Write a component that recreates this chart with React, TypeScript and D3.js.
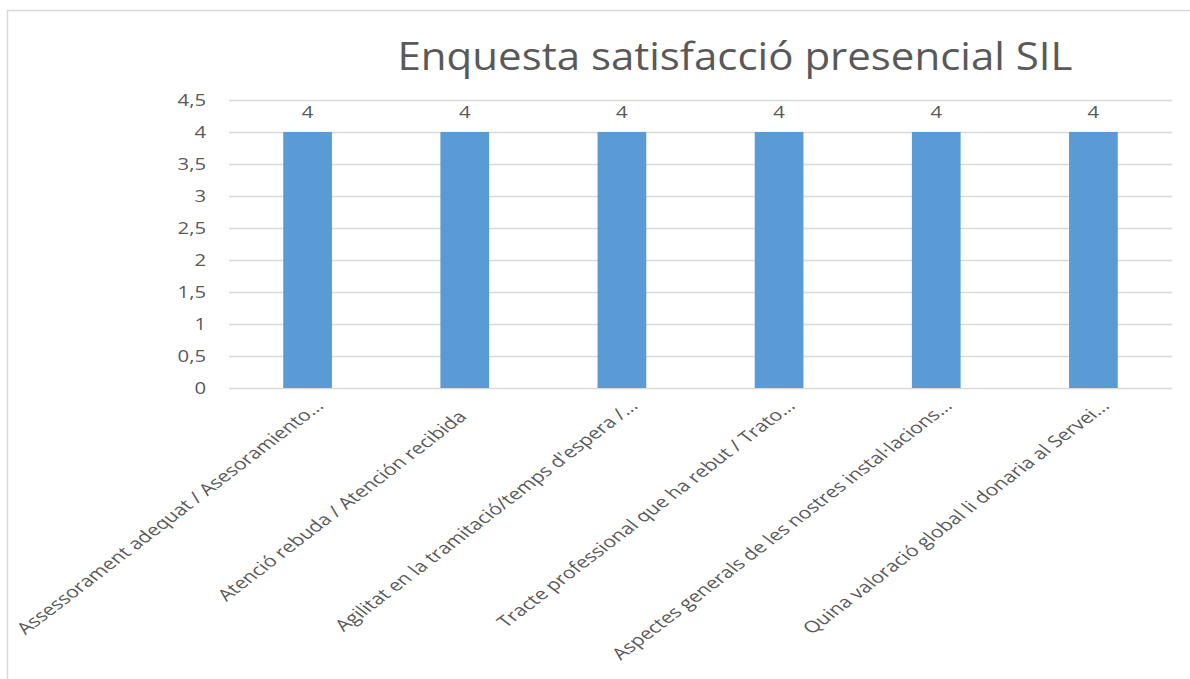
import React from "react";
import * as d3 from "d3";

const title = "Enquesta satisfacció presencial SIL";
const categories = [
  "Assessorament adequat / Asesoramiento...",
  "Atenció rebuda / Atención recibida",
  "Agilitat en la tramitació/temps d'espera /...",
  "Tracte professional que ha rebut / Trato...",
  "Aspectes generals de les nostres instal·lacions...",
  "Quina valoració global li donaria al Servei...",
];
const values = [4, 4, 4, 4, 4, 4];
const yTicks = [0, 0.5, 1, 1.5, 2, 2.5, 3, 3.5, 4, 4.5];

const W = 1190;
const H = 679;
const STRETCH = 1.31;
const TEXT = "#595959";
const GRID = "#D9D9D9";
const BAR = "#5B9BD5";
const FONT = "'Open Sans', 'Noto Sans', sans-serif";

const locale = d3.formatLocale({ decimal: ",", thousands: ".", grouping: [3], currency: ["", "€"] });
const fmt = locale.format("~g");

export default function App() {
  const x = d3.scaleBand<string>().domain(categories).range([229, 1172]).paddingInner(0.69).paddingOuter(0.345);
  const y = d3.scaleLinear().domain([0, 4.5]).range([388, 100]);

  return (
    <svg
      width={W}
      height={H}
      style={{ position: "absolute", left: 0, top: 0, background: "#fff" }}
      fontFamily={FONT}
    >
      <rect x={7.5} y={10.5} width={1200} height={700} fill="#fff" stroke={GRID} strokeWidth={1.5} />
      <text
        x={735}
        y={70}
        textAnchor="middle"
        fontSize={39}
        fill={TEXT}
        textLength={675}
        lengthAdjust="spacingAndGlyphs"
      >
        {title}
      </text>
      {yTicks.map((t) => (
        <g key={t}>
          <line x1={229} x2={1172} y1={Math.round(y(t)) + 0.5} y2={Math.round(y(t)) + 0.5} stroke={GRID} strokeWidth={1.3} />
          <text
            transform={`translate(206,${y(t)}) scale(${STRETCH},1)`}
            textAnchor="end"
            dy="0.36em"
            fontSize={15.5}
            fill={TEXT}
          >
            {fmt(t)}
          </text>
        </g>
      ))}
      {categories.map((c, i) => {
        const bx = x(c)!;
        const cx = bx + x.bandwidth() / 2;
        const v = values[i];
        const truncated = c.endsWith("...");
        return (
          <g key={c}>
            <rect x={bx} y={y(v)} width={x.bandwidth()} height={y(0) - y(v)} fill={BAR} />
            <text
              transform={`translate(${cx},${y(v) - 14}) scale(${STRETCH},1)`}
              textAnchor="middle"
              fontSize={15.5}
              fill={TEXT}
            >
              {fmt(v)}
            </text>
            <text
              transform={`translate(${cx + 17},407) scale(${STRETCH},1) rotate(-45)`}
              x={truncated ? 0 : -15}
              textAnchor="end"
              fontSize={16.2}
              fill={TEXT}
            >
              {c}
            </text>
          </g>
        );
      })}
    </svg>
  );
}
